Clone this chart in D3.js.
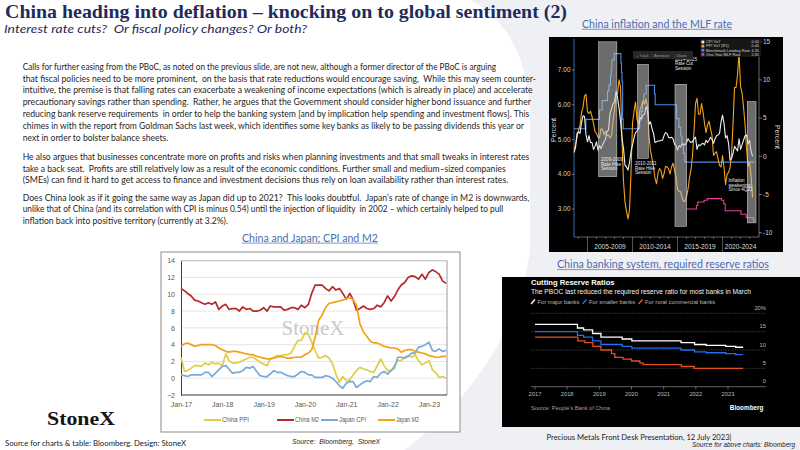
<!DOCTYPE html>
<html>
<head>
<meta charset="utf-8" />
<title>China heading into deflation</title>
<script src="https://cdn.jsdelivr.net/npm/d3@7"></script>
<style>
  body { margin: 0; background: #fff; }
  svg { display: block; }
  text { font-family: Lato, "Open Sans", sans-serif; white-space: pre; }
  .bb text, text.bb { font-family: "Liberation Sans", Arial, sans-serif; }
</style>
</head>
<body>
<svg id="slide" width="800" height="450"></svg>
<script>
// ---- China and Japan; CPI and M2 (monthly, Jan-17 .. Jun-23) ----
var chinaPPI = [2.5, 0.8, 0.9, 1.2, 1.5, 1.5, 1.4, 1.8, 1.6, 1.9, 1.7, 1.8,
  1.5, 2.9, 2.1, 1.8, 1.8, 1.9, 2.1, 2.3, 2.5, 2.5, 2.2, 1.9,
  1.7, 1.5, 2.3, 2.5, 2.7, 2.7, 2.8, 2.8, 3.0, 3.8, 4.5, 4.5,
  5.4, 5.2, 4.3, 3.3, 2.4, 2.5, 2.7, 2.4, 1.7, 0.5, -0.5, 0.2,
  -0.3, -0.2, 0.4, 0.9, 1.3, 1.1, 1.0, 0.8, 0.7, 1.5, 2.3, 1.5,
  0.9, 0.9, 1.5, 2.1, 2.1, 2.5, 2.7, 2.5, 2.8, 2.1, 1.6, 1.8,
  2.1, 1.0, 0.7, 0.1, 0.2, 0.0];
var chinaM2 = [10.7, 10.4, 10.1, 9.8, 9.3, 9.2, 9.0, 8.8, 9.0, 8.8, 9.1, 8.2,
  8.6, 8.8, 8.2, 8.3, 8.3, 8.0, 8.5, 8.2, 8.3, 8.0, 8.0, 8.1,
  8.4, 8.0, 8.6, 8.5, 8.5, 8.5, 8.1, 8.2, 8.4, 8.4, 8.2, 8.7,
  8.4, 8.8, 10.1, 11.1, 11.1, 11.1, 10.7, 10.4, 10.9, 10.5, 10.7, 10.1,
  9.4, 10.1, 9.4, 8.1, 8.3, 8.6, 8.3, 8.2, 8.3, 8.7, 8.5, 9.0,
  9.8, 9.2, 9.7, 10.5, 11.1, 11.4, 12.0, 12.2, 12.1, 11.8, 12.4, 11.8,
  12.6, 12.9, 12.7, 12.4, 11.6, 11.3];
var japanCPI = [0.4, 0.3, 0.2, 0.4, 0.4, 0.4, 0.4, 0.7, 0.7, 0.2, 0.6, 1.0,
  1.4, 1.5, 1.1, 0.6, 0.7, 0.7, 0.9, 1.3, 1.2, 1.4, 0.8, 0.3,
  0.2, 0.2, 0.5, 0.9, 0.7, 0.7, 0.5, 0.3, 0.2, 0.2, 0.5, 0.8,
  0.7, 0.4, 0.4, 0.1, 0.1, 0.1, 0.3, 0.2, 0.0, -0.4, -0.9, -1.2,
  -0.6, -0.4, -0.4, -1.1, -0.8, -0.5, -0.3, -0.4, 0.2, 0.1, 0.6, 0.8,
  0.5, 0.9, 1.2, 2.5, 2.5, 2.4, 2.6, 3.0, 3.0, 3.7, 3.8, 4.0,
  4.3, 3.3, 3.2, 3.5, 3.2, 3.3];
var japanM2 = [3.8, 4.1, 4.2, 4.0, 3.8, 3.9, 4.0, 4.0, 4.0, 4.0, 3.9, 3.6,
  3.4, 3.2, 3.1, 3.2, 3.2, 3.1, 3.0, 2.9, 2.8, 2.8, 2.6, 2.5,
  2.4, 2.3, 2.3, 2.4, 2.5, 2.6, 2.5, 2.4, 2.4, 2.5, 2.5, 2.5,
  2.8, 3.0, 3.4, 4.9, 6.9, 7.5, 8.4, 8.9, 9.0, 9.1, 9.2, 9.3,
  9.5, 9.6, 9.4, 8.7, 6.5, 5.5, 5.0, 4.4, 4.2, 4.2, 4.0, 3.8,
  3.7, 3.6, 3.6, 3.5, 3.1, 3.3, 3.4, 3.4, 3.2, 3.1, 3.0, 2.9,
  2.7, 2.6, 2.5, 2.5, 2.6, 2.6];
var cjNames = ['China PPI', 'China M2', 'Japan CPI', 'Japan M2'];
var cjYTicks = [-2, 0, 2, 4, 6, 8, 10, 12, 14];
var cjXTicks = ['2017-01', '2018-01', '2019-01', '2020-01', '2021-01', '2022-01', '2023-01'];

// ---- China inflation and the MLF rate (bi-monthly from Jul-03) ----
var cpiYoY = [0.5, 1.1, 3.0,
  3.2, 3.0, 4.4, 5.3, 5.2, 2.8,  1.9, 2.7, 1.8, 1.8, 0.9, 1.3,
  1.9, 0.8, 1.4, 1.0, 1.5, 1.9,  2.2, 3.3, 3.4, 5.6, 6.2, 6.9,
  7.1, 8.5, 7.7, 6.3, 4.6, 2.4,  1.0, -1.2, -1.4, -1.8, -0.8, 0.6,
  1.5, 2.4, 3.1, 3.3, 3.6, 5.1,  4.9, 5.4, 5.5, 6.5, 6.1, 4.2,
  4.5, 3.6, 3.0, 1.8, 1.9, 2.0,  2.0, 2.1, 2.1, 2.7, 3.1, 3.0,
  2.5, 2.4, 2.5, 2.3, 1.6, 1.4,  0.8, 1.4, 1.2, 1.6, 1.6, 1.5,
  1.8, 2.3, 2.0, 1.8, 1.9, 2.3,  2.5, 0.9, 1.5, 1.4, 1.6, 1.7,
  1.5, 2.1, 1.8, 2.1, 2.5, 2.2,  1.7, 2.3, 2.7, 2.8, 3.0, 4.5,
  5.4, 4.3, 2.4, 2.7, 1.7, -0.5, -0.3, 0.4, 1.3, 1.0, 0.7, 2.3,
  0.9, 1.5, 2.1, 2.7, 2.8, 1.6,  2.1, 0.7, 0.0];
var ppiYoY = [0.9, 1.5, 2.5,
  3.5, 4.0, 5.7, 6.4, 7.9, 8.1,  5.8, 5.6, 5.9, 5.2, 4.3, 3.2,
  3.0, 2.5, 2.4, 3.6, 3.5, 2.8,  3.3, 2.7, 2.8, 2.4, 2.7, 4.6,
  6.1, 8.0, 8.2, 10.0, 9.1, 2.0, -3.3, -6.0, -7.2, -8.2, -7.0, -2.1,
  4.3, 5.9, 7.1, 4.8, 4.3, 6.1,  6.6, 7.3, 6.8, 7.5, 6.5, 2.7,
  0.7, -0.3, -1.4, -2.9, -3.6, -2.2, -1.6, -1.9, -2.9, -2.3, -1.3, -1.4,
  -1.6, -2.3, -1.4, -0.9, -1.8, -2.7, -4.3, -4.6, -4.6, -5.4, -5.9, -5.9,
  -5.3, -4.3, -2.8, -1.7, 0.1, 3.3, 6.9, 7.6, 5.5, 5.5, 6.9, 5.8,
  4.3, 3.1, 4.1, 4.6, 3.6, 2.7,  0.1, 0.4, 0.6, -0.3, -1.2, -1.4,
  0.1, -1.5, -3.7, -2.4, -2.1, -1.5, 0.3, 4.4, 9.0, 9.0, 10.7, 13.5,
  9.1, 8.3, 6.4, 4.2, 0.9, -1.3, -0.8, -2.5, -5.4];
var lendingRate = [[2003.5, 5.31], [2004.82, 5.58], [2006.32, 5.85], [2006.63, 6.12], [2007.22, 6.39],
  [2007.38, 6.57], [2007.55, 6.84], [2007.64, 7.02], [2007.71, 7.29], [2007.97, 7.47], [2008.71, 7.20],
  [2008.78, 6.93], [2008.83, 6.66], [2008.9, 5.58], [2008.97, 5.31], [2010.8, 5.56], [2010.98, 5.81],
  [2011.11, 6.06], [2011.26, 6.31], [2011.52, 6.56], [2012.44, 6.31], [2012.52, 6.00], [2014.89, 5.60],
  [2015.16, 5.35], [2015.36, 5.10], [2015.49, 4.85], [2015.65, 4.60], [2015.81, 4.35], [2023.55, 4.35]];
var mlfRate = [[2016.05, 3.00], [2017.1, 3.10], [2017.25, 3.20], [2017.95, 3.25], [2018.3, 3.30],
  [2019.88, 3.25], [2020.13, 3.15], [2020.3, 2.95], [2022.04, 2.85], [2022.62, 2.75], [2023.45, 2.65], [2023.55, 2.65]];
var mlfLegend = ['CPI YoY', 'PPI YoY (R1)', 'Benchmark Lending Rate', 'One-Year MLF Rate'];
var mlfLast = ['0.00', '-5.40', '4.35', '2.65'];
var leftTicks = [3, 4, 5, 6, 7];
var rightTicks = [-10, -5, 0, 5, 10, 15];
var periods = [[2005, 2010, '2005-2009'], [2010, 2015, '2010-2014'], [2015, 2020, '2015-2019'], [2020, 2024, '2020-2024']];
var sessions = [
  [2006.22, 2008.26, 7.81, 3.93, ['2006-2008', 'Rate Hike', 'Session']],
  [2010.55, 2011.77, 7.16, 4.46, ['2010-2011', 'Rate Hike', 'Session']],
  [2014.72, 2016.02, 6.59, 2.50, ['2014-2015', 'Rate Cut', 'Session']],
  [2022.75, 2023.72, 6.09, 2.60, ['Inflation', 'weakening', 'Since 4Q22']]];

// ---- China banking system, required reserve ratios ----
var rrrMajor = [[2017.0, 17], [2018.32, 16], [2018.51, 15.5], [2018.79, 14.5], [2019.05, 13.5], [2019.71, 13],
  [2020.01, 12.5], [2021.54, 12], [2021.96, 11.5], [2022.32, 11.25], [2022.93, 11], [2023.24, 10.75], [2023.47, 10.75]];
var rrrSmaller = [[2017.0, 15], [2018.32, 14], [2018.51, 13.5], [2018.79, 12.5], [2019.05, 11.5], [2019.71, 11],
  [2020.01, 10.5], [2021.54, 10], [2021.96, 9.5], [2022.32, 9.25], [2022.93, 9], [2023.24, 8.75], [2023.47, 8.75]];
var rrrRural = [[2017.0, 13.5], [2018.33, 12.5], [2018.55, 12.0], [2018.8, 11.0], [2019.05, 10.0], [2019.38, 9.0],
  [2019.48, 8.0], [2019.74, 7.5], [2020.0, 7.0], [2020.26, 6.5], [2020.36, 6.0], [2021.55, 5.5], [2021.95, 5.0], [2023.47, 5.0]];
var rrrNames = ['For major banks', 'For smaller banks', 'For rural commercial banks'];
var rrrYears = [2017, 2018, 2019, 2020, 2021, 2022, 2023];
var rrrYTicks = [0, 5, 10, 15, 20];

// ---- slide text ----
var bodyParas = [
  ['Calls for further easing from the PBoC, as noted on the previous slide, are not new, although a former director of the PBoC is arguing',
   'that fiscal policies need to be more prominent,  on the basis that rate reductions would encourage saving,  While this may seem counter-',
   'intuitive, the premise is that falling rates can exacerbate a weakening of income expectations (which is already in place) and accelerate',
   'precautionary savings rather than spending.  Rather, he argues that the Government should consider higher bond issuance and further',
   'reducing bank reserve requirements  in order to help the banking system [and by implication help spending and investment flows]. This',
   'chimes in with the report from Goldman Sachs last week, which identifies some key banks as likely to be passing dividends this year or',
   'next in order to bolster balance sheets.'],
  ['He also argues that businesses concentrate more on profits and risks when planning investments and that small tweaks in interest rates',
   'take a back seat.  Profits are still relatively low as a result of the economic conditions. Further small and medium\u2013sized companies',
   '(SMEs) can find it hard to get access to finance and investment decisions thus rely on loan availability rather than interest rates.'],
  ['Does China look as if it going the same way as Japan did up to 2021?  This looks doubtful.  Japan\u2019s rate of change in M2 is downwards,',
   'unlike that of China (and its correlation with CPI is minus 0.54) until the injection of liquidity  in 2002 \u2013 which certainly helped to pull',
   'inflation back into positive territory (currently at 3.2%).']];

var svg = d3.select('#slide');
var navy = '#1f2b5b', linkBlue = '#4a6cb0';

// watermark background
svg.append('path')
  .attr('d', 'M470,0 C505,18 527,55 530,110 L530,250 C520,330 470,400 405,450 L800,450 L800,0 Z')
  .attr('fill', '#eff0f4');

// title block
svg.append('text').attr('x', 5).attr('y', 18).text('China heading into deflation \u2013 knocking on to global sentiment (2)')
  .style('font-family', '"Liberation Serif", serif').style('font-weight', 'bold').style('font-size', '19px')
  .attr('fill', navy).attr('textLength', 562).attr('lengthAdjust', 'spacingAndGlyphs');
svg.append('text').attr('x', 4).attr('y', 32.5).text('Interest rate cuts?  Or fiscal policy changes? Or both?')
  .style('font-style', 'italic').style('font-size', '11.8px')
  .attr('fill', navy).attr('textLength', 303).attr('lengthAdjust', 'spacingAndGlyphs');

// body text: full lines fitted to their measured ends, short last lines scaled by the same factor
var lineEnds = [[496, 536, 532.7, 531, 529.3, 524, null], [529.3, 505.7, 508.3], [529.3, 503.3, null]];
var paraTop = [69.7, 159.7, 200.5];
var bodyNodes = [], ratios = [];
bodyParas.forEach(function (p, pi) {
  p.forEach(function (s, li) {
    var t = svg.append('text').attr('x', 22.7).attr('y', paraTop[pi] + li * 11.8).text(s)
      .style('font-size', '8.6px').attr('fill', '#262626');
    var natural = t.node().getComputedTextLength();
    var end = lineEnds[pi][li];
    if (end) ratios.push((end - 22.7) / natural);
    bodyNodes.push({ sel: t, natural: natural, end: end });
  });
});
var meanRatio = d3.mean(ratios);
bodyNodes.forEach(function (b) {
  var len = b.end ? b.end - 22.7 : b.natural * meanRatio;
  b.sel.attr('textLength', len).attr('lengthAdjust', 'spacingAndGlyphs');
});

function linkTitle(txt, x0, x1, y) {
  svg.append('text').attr('x', x0).attr('y', y).text(txt).style('font-size', '10.5px').attr('fill', linkBlue)
    .attr('textLength', x1 - x0).attr('lengthAdjust', 'spacingAndGlyphs');
  svg.append('line').attr('x1', x0).attr('x2', x1).attr('y1', y + 1.6).attr('y2', y + 1.6)
    .attr('stroke', linkBlue).attr('stroke-width', 0.7);
}

// ================= China and Japan chart =================
linkTitle('China and Japan; CPI and M2', 242, 378, 241.5);
var cj = svg.append('g');
cj.append('rect').attr('x', 161).attr('y', 252).attr('width', 299).attr('height', 180)
  .attr('fill', '#fff').attr('stroke', '#8c8c8c').attr('stroke-width', 1);
var months = chinaM2.map(function (d, i) { return new Date(2017, i, 1); });
var xCJ = d3.scaleTime().domain([new Date(2017, 0, 1), new Date(2023, 5, 1)]).range([181, 446]);
var yCJ = d3.scaleLinear().domain([-2, 14]).range([395, 260.7]);

cj.selectAll('line.grid').data(cjYTicks).enter().append('line').attr('class', 'grid')
  .attr('x1', 181).attr('x2', 447).attr('y1', yCJ).attr('y2', yCJ)
  .attr('stroke', '#dedede').attr('stroke-width', 0.8);
cj.append('line').attr('x1', 447).attr('x2', 447).attr('y1', yCJ(14)).attr('y2', yCJ(-2)).attr('stroke', '#9a9a9a');
cj.append('line').attr('x1', 181).attr('x2', 447).attr('y1', yCJ(14)).attr('y2', yCJ(14)).attr('stroke', '#c0c0c0');

// watermark
cj.append('text').attr('x', 313).attr('y', 335).attr('text-anchor', 'middle').text('StoneX')
  .style('font-family', '"Liberation Serif", serif').style('font-size', '21px').attr('fill', '#cacaca');

var yAx = cj.append('g').attr('transform', 'translate(181,0)')
  .call(d3.axisLeft(yCJ).tickValues(cjYTicks).tickSize(0).tickPadding(6));
yAx.select('.domain').attr('stroke', '#404040');
yAx.selectAll('text').style('font-size', '7px').attr('fill', '#595959').style('font-family', '"Liberation Sans", sans-serif');
var xAx = cj.append('g').attr('transform', 'translate(0,395)')
  .call(d3.axisBottom(xCJ).tickValues(cjXTicks.map(function (s) { return new Date(s + '-01T00:00'); }))
    .tickFormat(d3.timeFormat('%b-%y')).tickSize(0).tickPadding(7));
xAx.select('.domain').attr('stroke', '#404040').attr('d', 'M181,0H447');
xAx.selectAll('text').style('font-size', '7px').attr('fill', '#595959').style('font-family', '"Liberation Sans", sans-serif');

var cjColors = ['#dccf45', '#b52a2a', '#78aad8', '#f5a01a'];
var cjValues = [chinaPPI, chinaM2, japanCPI, japanM2];
var lineCJ = d3.line().x(function (d, i) { return xCJ(months[i]); }).y(function (d) { return yCJ(d); });
cjValues.forEach(function (vals, k) {
  cj.append('path').attr('d', lineCJ(vals)).attr('fill', 'none')
    .attr('stroke', cjColors[k]).attr('stroke-width', 1.7).attr('stroke-linejoin', 'round');
});
var cjLegX = [204, 277, 321, 378];
var cjLegW = [27, 24, 27, 23];
cjNames.forEach(function (n, k) {
  cj.append('line').attr('x1', cjLegX[k]).attr('x2', cjLegX[k] + 17).attr('y1', 420).attr('y2', 420)
    .attr('stroke', cjColors[k]).attr('stroke-width', 2);
  cj.append('text').attr('x', cjLegX[k] + 18).attr('y', 422.4).text(n)
    .style('font-size', '6.4px').attr('fill', '#595959').style('font-family', '"Liberation Sans", sans-serif')
    .attr('textLength', cjLegW[k]).attr('lengthAdjust', 'spacingAndGlyphs');
});
svg.append('text').attr('class', 'bb').attr('x', 292).attr('y', 443.5).text('Source:  Bloomberg,  StoneX')
  .style('font-size', '7.5px').style('font-style', 'italic').attr('fill', '#262626')
  .attr('textLength', 88).attr('lengthAdjust', 'spacingAndGlyphs');

// ================= China inflation and the MLF rate =================
linkTitle('China inflation and the MLF rate', 582, 732, 27.7);
var tr = svg.append('g').attr('class', 'bb');
tr.append('rect').attr('x', 549).attr('y', 37).attr('width', 234).attr('height', 215).attr('fill', '#000');
var xTR = d3.scaleLinear().domain([2003.5, 2024.05]).range([574, 759]);
var yL = d3.scaleLinear().domain([3, 7]).range([209, 70]);
var yR = d3.scaleLinear().domain([-10, 15]).range([232.7, 41.7]);
var bimonth = function (i) { return 2003.5 + i / 6; };

// axes
tr.append('line').attr('x1', 574).attr('x2', 759).attr('y1', 237).attr('y2', 237).attr('stroke', '#8a8a8a').attr('stroke-width', 0.7);
tr.selectAll('line.minor').data(d3.range(2004, 2024)).enter().append('line')
  .attr('x1', xTR).attr('x2', xTR).attr('y1', 237).attr('y2', 239).attr('stroke', '#8a8a8a').attr('stroke-width', 0.6);
periods.forEach(function (p) {
  tr.append('line').attr('x1', xTR(p[0])).attr('x2', xTR(p[0])).attr('y1', 237).attr('y2', 252)
    .attr('stroke', '#777').attr('stroke-width', 0.7);
  tr.append('text').attr('x', (xTR(p[0]) + Math.min(xTR(p[1]), 759)) / 2).attr('y', 249).attr('text-anchor', 'middle')
    .text(p[2]).style('font-size', '6.6px').attr('fill', '#dcdcdc');
});
tr.append('line').attr('x1', 574).attr('x2', 574).attr('y1', 39).attr('y2', 237).attr('stroke', '#3d7ad6').attr('stroke-width', 0.9);
tr.append('line').attr('x1', 759).attr('x2', 759).attr('y1', 39).attr('y2', 237).attr('stroke', '#9a9a9a').attr('stroke-width', 0.7);
leftTicks.forEach(function (v) {
  tr.append('line').attr('x1', 572).attr('x2', 574).attr('y1', yL(v)).attr('y2', yL(v)).attr('stroke', '#bbb').attr('stroke-width', 0.6);
  tr.append('text').attr('x', 570.5).attr('y', yL(v) + 2.2).attr('text-anchor', 'end').text(d3.format('.2f')(v))
    .style('font-size', '6.5px').attr('fill', '#d4d4d4');
});
rightTicks.forEach(function (v) {
  tr.append('line').attr('x1', 759).attr('x2', 762).attr('y1', yR(v)).attr('y2', yR(v)).attr('stroke', '#bbb').attr('stroke-width', 0.6);
  tr.append('text').attr('x', 763).attr('y', yR(v) + 2.2).text(v)
    .style('font-size', '6.5px').attr('fill', '#d4d4d4');
});
tr.append('text').attr('transform', 'translate(556,130) rotate(-90)').attr('text-anchor', 'middle').text('Percent')
  .style('font-size', '7px').attr('fill', '#d4d4d4');
tr.append('text').attr('transform', 'translate(775,137) rotate(90)').attr('text-anchor', 'middle').text('Percent')
  .style('font-size', '7px').attr('fill', '#d4d4d4');

// series
var stepL = d3.line().curve(d3.curveStepAfter).x(function (d) { return xTR(d[0]); }).y(function (d) { return yL(d[1]); });
var lineR = d3.line().x(function (d, i) { return xTR(bimonth(i)); }).y(function (d) { return yR(d); });
tr.append('path').attr('d', stepL(lendingRate)).attr('fill', 'none').attr('stroke', '#4a8de6').attr('stroke-width', 1.1);
tr.append('path').attr('d', stepL(mlfRate)).attr('fill', 'none').attr('stroke', '#e0409a').attr('stroke-width', 1.1);
tr.append('path').attr('d', lineR(ppiYoY)).attr('fill', 'none').attr('stroke', '#f4a21c').attr('stroke-width', 1.1).attr('stroke-linejoin', 'round');
tr.append('path').attr('d', lineR(cpiYoY)).attr('fill', 'none').attr('stroke', '#f0f0f0').attr('stroke-width', 1.1).attr('stroke-linejoin', 'round');

// rate sessions
sessions.forEach(function (s) {
  tr.append('rect').attr('x', xTR(s[0])).attr('y', yL(s[2])).attr('width', xTR(s[1]) - xTR(s[0])).attr('height', yL(s[3]) - yL(s[2]))
    .attr('fill', '#c4c4c4').attr('fill-opacity', 0.55).attr('stroke', '#e0e0e0').attr('stroke-width', 0.5);
});
var sessLabelPos = [[601, 161], [635, 165], [675, 60.5], [728.5, 182]];
sessions.forEach(function (s, k) {
  s[4].forEach(function (t, j) {
    tr.append('text').attr('x', sessLabelPos[k][0]).attr('y', sessLabelPos[k][1] + j * 4.6).text(t)
      .style('font-size', '4.6px').attr('fill', '#e8e8e8');
  });
});

// toolbar + legend
tr.append('rect').attr('x', 633).attr('y', 51).attr('width', 60).attr('height', 8).attr('fill', '#262626');
tr.append('text').attr('x', 636).attr('y', 56.6).text('+ Track    \u2044 Annotate    \u2315 Zoom').style('font-size', '3.8px').attr('fill', '#9a9a9a');
tr.append('rect').attr('x', 700).attr('y', 38.5).attr('width', 61).attr('height', 18.5).attr('fill', '#161616');
var legColors = ['#f0f0f0', '#f4a21c', '#4a8de6', '#e0409a'];
mlfLegend.forEach(function (n, k) {
  var yy = 42 + k * 4.1;
  tr.append('rect').attr('x', 701.5).attr('y', yy - 1.4).attr('width', 2.8).attr('height', 2.8).attr('fill', legColors[k]);
  tr.append('text').attr('x', 706).attr('y', yy + 1.3).text(n).style('font-size', '3.9px').attr('fill', '#d8d8d8');
  tr.append('text').attr('x', 759).attr('y', yy + 1.3).attr('text-anchor', 'end').text(mlfLast[k]).style('font-size', '3.9px').attr('fill', '#d8d8d8');
});

// ================= China banking system, required reserve ratios =================
linkTitle('China banking system, required reserve ratios', 557, 769, 268);
var br = svg.append('g').attr('class', 'bb');
br.append('rect').attr('x', 502).attr('y', 277).attr('width', 298).attr('height', 150).attr('fill', '#000');
var xRR = d3.scaleLinear().domain([2017, 2023]).range([535, 728]);
var yRR = d3.scaleLinear().domain([0, 20]).range([386.7, 313.3]);
br.append('text').attr('x', 531).attr('y', 285).text('Cutting Reserve Ratios').style('font-size', '7.6px').style('font-weight', 'bold').attr('fill', '#fff');
br.append('text').attr('x', 531).attr('y', 293.5).text('The PBOC last reduced the required reserve ratio for most banks in March')
  .style('font-size', '7px').attr('fill', '#f2f2f2').attr('textLength', 220).attr('lengthAdjust', 'spacingAndGlyphs');
var rrrColors = ['#ffffff', '#1f6ff0', '#e4521e'];
var rrrLegX = [531, 582.5, 638.5];
rrrNames.forEach(function (n, k) {
  br.append('line').attr('x1', rrrLegX[k]).attr('x2', rrrLegX[k] + 4).attr('y1', 304).attr('y2', 299.5)
    .attr('stroke', rrrColors[k]).attr('stroke-width', 1.4);
  br.append('text').attr('x', rrrLegX[k] + 6.5).attr('y', 303.8).text(n).style('font-size', '5.8px').attr('fill', '#b8b8b8');
});
rrrYTicks.forEach(function (v) {
  br.append('line').attr('x1', 531).attr('x2', 766).attr('y1', yRR(v)).attr('y2', yRR(v))
    .attr('stroke', v === 0 ? '#8a8a8a' : '#5a5a5a').attr('stroke-width', 0.7)
    .attr('stroke-dasharray', v === 0 ? null : '1.2,1.2');
  br.append('text').attr('x', 766).attr('y', yRR(v) - 3.5).attr('text-anchor', 'end').text(v === 20 ? '20%' : v)
    .style('font-size', '5.8px').attr('fill', '#b8b8b8');
});
rrrYears.forEach(function (yr) {
  br.append('line').attr('x1', xRR(yr)).attr('x2', xRR(yr)).attr('y1', 386.7).attr('y2', 389.5).attr('stroke', '#8a8a8a').attr('stroke-width', 0.7);
  br.append('text').attr('x', xRR(yr)).attr('y', 395.8).attr('text-anchor', 'middle').text(yr)
    .style('font-size', '5.8px').attr('fill', '#b8b8b8');
});
var stepRR = d3.line().curve(d3.curveStepAfter).x(function (d) { return xRR(d[0]); }).y(function (d) { return yRR(d[1]); });
[rrrMajor, rrrSmaller, rrrRural].forEach(function (s, k) {
  br.append('path').attr('d', stepRR(s)).attr('fill', 'none').attr('stroke', rrrColors[k]).attr('stroke-width', 1.3);
});
br.append('text').attr('x', 531).attr('y', 410).text('Source: People\u2019s Bank of China').style('font-size', '5.6px').attr('fill', '#a0a0a0');
br.append('text').attr('x', 763.5).attr('y', 410).attr('text-anchor', 'end').text('Bloomberg')
  .style('font-size', '6.4px').style('font-weight', 'bold').attr('fill', '#fff');

// ================= footer =================
svg.append('text').attr('x', 47).attr('y', 425).text('StoneX')
  .style('font-family', '"Liberation Serif", serif').style('font-weight', 'bold').style('font-size', '19px')
  .attr('fill', '#161616').attr('textLength', 68).attr('lengthAdjust', 'spacingAndGlyphs');
svg.append('text').attr('x', 5).attr('y', 445.5).text('Source for charts & table: Bloomberg. Design: StoneX')
  .style('font-size', '8.3px').attr('fill', '#1a1a1a').attr('textLength', 181).attr('lengthAdjust', 'spacingAndGlyphs');
svg.append('text').attr('x', 546.5).attr('y', 440).text('Precious Metals Front Desk Presentation, 12 July 2023|')
  .style('font-size', '8.3px').attr('fill', '#1a1a1a').attr('textLength', 185).attr('lengthAdjust', 'spacingAndGlyphs');
svg.append('text').attr('class', 'bb').attr('x', 692).attr('y', 446.5).text('Source for above charts: Bloomberg')
  .style('font-size', '6.8px').style('font-style', 'italic').attr('fill', '#1a1a1a')
  .attr('textLength', 103).attr('lengthAdjust', 'spacingAndGlyphs');
</script>
</body>
</html>
